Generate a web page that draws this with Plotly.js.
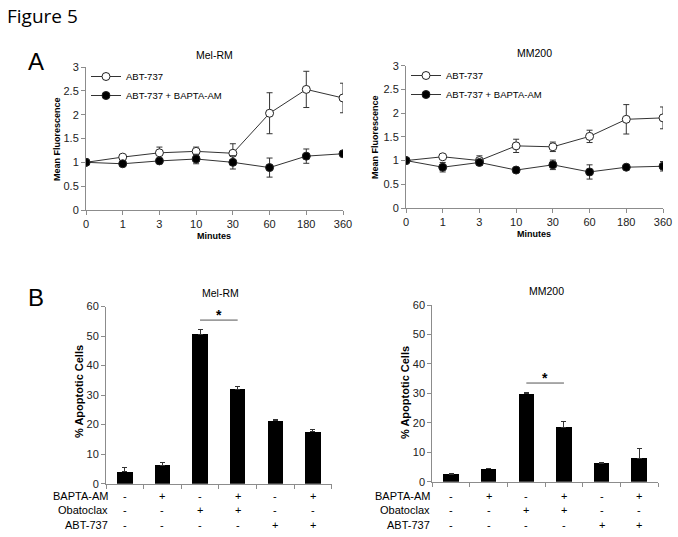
<!DOCTYPE html>
<html>
<head>
<meta charset="utf-8">
<script src="https://cdn.plot.ly/plotly-3.0.1.min.js"></script>
<style>html,body{margin:0;padding:0;background:#fff}#chart{width:678px;height:537px}</style>
</head>
<body>
<div id="chart"></div>
<script>
// ---- Data ----
const minutes = ['0','1','3','10','30','60','180','360'];
const melRM_abt = [1.0, 1.11, 1.20, 1.23, 1.19, 2.03, 2.53, 2.35];
const melRM_abt_err = [0, 0.03, 0.12, 0.09, 0.20, 0.43, 0.38, 0.31];
const melRM_bapta = [1.0, 0.97, 1.03, 1.07, 1.00, 0.89, 1.13, 1.18];
const melRM_bapta_err = [0, 0.03, 0.04, 0.10, 0.14, 0.20, 0.15, 0.03];
const mm200_abt = [1.0, 1.08, 1.00, 1.31, 1.29, 1.51, 1.87, 1.90];
const mm200_abt_err = [0, 0.03, 0.10, 0.14, 0.10, 0.13, 0.31, 0.23];
const mm200_bapta = [1.0, 0.86, 0.96, 0.80, 0.91, 0.76, 0.86, 0.88];
const mm200_bapta_err = [0, 0.10, 0.03, 0.02, 0.10, 0.15, 0.03, 0.10];

const groups = [0, 1, 2, 3, 4, 5];
const melRM_apop = [4.1, 6.2, 50.6, 32.0, 21.3, 17.6];
const melRM_apop_err = [1.4, 1.0, 1.5, 1.0, 0.6, 0.9];
const mm200_apop = [2.5, 4.4, 29.9, 18.5, 6.3, 7.9];
const mm200_apop_err = [0.3, 0.2, 0.3, 2.0, 0.2, 3.3];

const rowLabels = ['BAPTA-AM', 'Obatoclax', 'ABT-737'];
const rowBAPTA = ['-', '+', '-', '+', '-', '+'];
const rowObato = ['-', '-', '+', '+', '-', '-'];
const rowABT = ['-', '-', '-', '-', '+', '+'];
const melRM_sig = [2, 3, 55.4];   // from group, to group, level
const mm200_sig = [2, 3, 33.5];

const legendNames = ['ABT-737', 'ABT-737 + BAPTA-AM'];

// ---- Styles ----
const FONT = 'Liberation Sans, Arial, sans-serif';
const axisCol = '#8c8c8c';
const lineCol = '#333';

function lineTrace(y, err, filled, xa, ya, name, legend, showlegend) {
  return {
    type: 'scatter', mode: 'lines+markers', x: minutes, y: y,
    xaxis: xa, yaxis: ya, name: name, legend: legend, showlegend: showlegend,
    line: {color: lineCol, width: 1},
    marker: {symbol: 'circle', size: 8, color: filled ? '#000' : '#fff', line: {color: '#222', width: 1}},
    error_y: {type: 'data', array: err, visible: true, color: lineCol, thickness: 1, width: 3}
  };
}
function barTrace(y, err, xa, ya) {
  return {
    type: 'bar', x: groups, y: y, xaxis: xa, yaxis: ya, width: 0.41, showlegend: false,
    marker: {color: '#000', line: {width: 0}},
    error_y: {type: 'data', symmetric: false, array: err, arrayminus: err.map(() => 0), color: '#333', thickness: 1, width: 2.5}
  };
}

const data = [
  lineTrace(melRM_abt, melRM_abt_err, false, 'x', 'y', legendNames[0], 'legend', true),
  lineTrace(melRM_bapta, melRM_bapta_err, true, 'x', 'y', legendNames[1], 'legend', true),
  lineTrace(mm200_abt, mm200_abt_err, false, 'x2', 'y2', legendNames[0], 'legend2', true),
  lineTrace(mm200_bapta, mm200_bapta_err, true, 'x2', 'y2', legendNames[1], 'legend2', true),
  barTrace(melRM_apop, melRM_apop_err, 'x3', 'y3'),
  barTrace(mm200_apop, mm200_apop_err, 'x4', 'y4')
];

const W = 678, H = 537;
const px = v => v / W, py = v => 1 - v / H;

const tickFont = {family: FONT, size: 11, color: '#222'};
function catAxis(domain, anchor) {
  return {domain: domain, anchor: anchor, type: 'category', range: [0, minutes.length - 1],
    showline: true, linecolor: axisCol, linewidth: 1, ticks: 'outside', ticklen: 4, tickcolor: axisCol,
    showgrid: false, zeroline: false, tickfont: tickFont, fixedrange: true};
}
function valAxis(domain, anchor, range, dtick) {
  return {domain: domain, anchor: anchor, range: range, dtick: dtick, tick0: 0,
    showline: true, linecolor: axisCol, linewidth: 1, ticks: 'outside', ticklen: 4, tickcolor: axisCol,
    showgrid: false, zeroline: false, tickfont: tickFont, fixedrange: true};
}
function grpAxis(domain, anchor) {
  const tv = [];
  for (let i = 0; i <= groups.length; i++) tv.push(i - 0.5);
  return {domain: domain, anchor: anchor, range: [-0.5, groups.length - 0.5],
    tickvals: tv, showticklabels: false,
    showline: true, linecolor: axisCol, linewidth: 1, ticks: 'outside', ticklen: 4, tickcolor: axisCol,
    showgrid: false, zeroline: false, fixedrange: true};
}

const annotations = [];
function txt(x, y, text, size, opts) {
  annotations.push(Object.assign({xref: 'paper', yref: 'paper', x: px(x), y: py(y), text: text,
    showarrow: false, font: {family: FONT, size: size, color: '#000'}, xanchor: 'center', yanchor: 'middle'}, opts || {}));
}
txt(5, 16, 'Figure 5', 19, {xanchor: 'left', font: {family: 'Open Sans, sans-serif', size: 19, color: '#000'}});
txt(26, 62, 'A', 24, {xanchor: 'left'});
txt(26, 297, 'B', 24, {xanchor: 'left'});
txt(214, 55, 'Mel-RM', 10.5);
txt(534, 53, 'MM200', 10.5);
txt(220, 293, 'Mel-RM', 10.5);
txt(546, 291, 'MM200', 10.5);
txt(214, 236, '<b>Minutes</b>', 9);
txt(534, 234, '<b>Minutes</b>', 9);
txt(57, 139, '<b>Mean Fluorescence</b>', 9, {textangle: -90});
txt(375, 137, '<b>Mean Fluorescence</b>', 9, {textangle: -90});
txt(79, 392, '<b>% Apoptotic Cells</b>', 11, {textangle: -90});
txt(405, 393, '<b>% Apoptotic Cells</b>', 11, {textangle: -90});

const rowsY = [496, 510, 525];
const rows = [rowBAPTA, rowObato, rowABT];
[['x3', 110], ['x4', 432]].forEach(([xa, lx]) => {
  rows.forEach((r, ri) => {
    txt(lx, rowsY[ri], rowLabels[ri], 11, {xanchor: 'right'});
    r.forEach((s, gi) => {
      annotations.push({xref: xa, yref: 'paper', x: groups[gi], y: py(rowsY[ri]), text: s, showarrow: false,
        font: {family: FONT, size: 11, color: '#000'}, xanchor: 'center', yanchor: 'middle'});
    });
  });
});

const shapes = [];
[[melRM_sig, 'x3', 'y3'], [mm200_sig, 'x4', 'y4']].forEach(([s, xa, ya]) => {
  shapes.push({type: 'line', xref: xa, yref: ya, x0: s[0], x1: s[1], y0: s[2], y1: s[2], line: {color: '#555', width: 1}});
  annotations.push({xref: xa, yref: ya, x: (s[0] + s[1]) / 2, y: s[2], text: '<b>*</b>', showarrow: false,
    font: {family: FONT, size: 14, color: '#000'}, xanchor: 'center', yanchor: 'bottom', yshift: -5});
});

const legendBase = {bgcolor: 'rgba(0,0,0,0)', font: {family: FONT, size: 9.5, color: '#000'},
  xanchor: 'left', yanchor: 'top', tracegroupgap: 0, itemwidth: 30, traceorder: 'normal'};

const layout = {
  width: W, height: H, margin: {l: 0, r: 0, t: 0, b: 0},
  paper_bgcolor: '#fff', plot_bgcolor: 'rgba(0,0,0,0)', showlegend: true,
  xaxis: catAxis([px(86), px(343)], 'y'),
  yaxis: valAxis([py(210), py(67)], 'x', [0, 3], 0.5),
  xaxis2: catAxis([px(406), px(663)], 'y2'),
  yaxis2: valAxis([py(208), py(65.7)], 'x2', [0, 3], 0.5),
  xaxis3: grpAxis([px(106), px(331.7)], 'y3'),
  yaxis3: valAxis([py(483.7), py(306.5)], 'x3', [0, 60], 10),
  xaxis4: grpAxis([px(432.3), px(658)], 'y4'),
  yaxis4: valAxis([py(481.7), py(305)], 'x4', [0, 60], 10),
  legend: Object.assign({x: px(86), y: py(62)}, legendBase),
  legend2: Object.assign({x: px(406), y: py(61)}, legendBase),
  annotations: annotations, shapes: shapes, bargap: 0
};

Plotly.newPlot('chart', data, layout, {staticPlot: true, displayModeBar: false});
</script>
</body>
</html>
